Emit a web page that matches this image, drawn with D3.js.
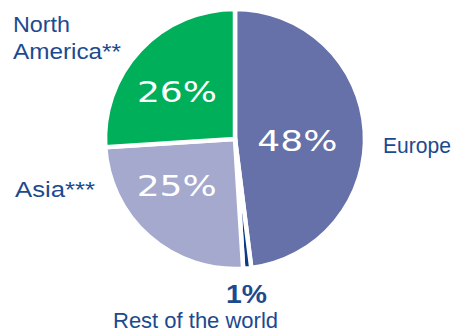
<!DOCTYPE html>
<html>
<head>
<meta charset="utf-8">
<script src="https://cdn.jsdelivr.net/npm/d3@7"></script>
<style>
  body { margin: 0; background: #fff; }
  svg { display: block; }
</style>
</head>
<body>
<div id="chart"></div>
<script>
// values
var regions = ["Europe", "Rest of the world", "Asia***", "North America**"];
var shares = [48, 1, 25, 26];
var sliceColors = ["#6571a8", "#0b3b82", "#a4a9cd", "#00af5a"];

var width = 455,
    height = 334,
    radius = 130,
    cx = 235,
    cy = 139;

var labelColor = "#1c4a8e";

var data = regions.map(function(d, i) {
  return { name: d, value: shares[i], color: sliceColors[i] };
});

var pie = d3.pie()
  .sort(null)
  .value(function(d) { return d.value; });

var arc = d3.arc()
  .outerRadius(radius)
  .innerRadius(0);

var labelArc = d3.arc()
  .outerRadius(radius * 1.1)
  .innerRadius(0);

var svg = d3.select("#chart").append("svg")
  .attr("width", width)
  .attr("height", height);

var g = svg.append("g")
  .attr("transform", "translate(" + cx + "," + cy + ")");

var slices = g.selectAll(".arc")
  .data(pie(data))
  .enter().append("g")
  .attr("class", "arc");

slices.append("path")
  .attr("d", arc)
  .style("fill", function(d) { return d.data.color; })
  .style("stroke", "#fff")
  .style("stroke-width", 4.5)
  .style("stroke-linejoin", "miter");

// white percentages inside the big slices; small nudges off the centroid
var nudge = { "Europe": [-9, 16], "Asia***": [-11, 3], "North America**": [-6, 12] };

slices.filter(function(d) { return d.data.value > 5; })
  .append("text")
  .attr("transform", function(d) {
    var c = labelArc.centroid(d), n = nudge[d.data.name];
    return "translate(" + (c[0] + n[0]) + "," + (c[1] + n[1]) + ")";
  })
  .attr("text-anchor", "middle")
  .attr("textLength", 80)
  .attr("lengthAdjust", "spacingAndGlyphs")
  .style("font-family", "'DejaVu Sans', sans-serif")
  .style("font-size", "29px")
  .style("fill", "#fff")
  .text(function(d) { return d.data.value + "%"; });

// outside labels, squeezed to the widths seen in the picture
var labels = svg.append("g")
  .style("font-family", "'Liberation Sans', Arial, sans-serif")
  .style("font-size", "22px")
  .style("fill", labelColor);

function label(txt, x, y, w) {
  return labels.append("text")
    .attr("x", x).attr("y", y)
    .attr("textLength", w)
    .attr("lengthAdjust", "spacingAndGlyphs")
    .text(txt);
}

label("North", 13, 32, 57);
label("America**", 13, 59, 108);
label("Asia***", 15, 197, 80);
label("Europe", 383, 153, 68);
label(shares[1] + "%", 226, 303, 41)
  .style("font-weight", "bold")
  .style("font-size", "25px");
label("Rest of the world", 113, 328, 165);
</script>
</body>
</html>
